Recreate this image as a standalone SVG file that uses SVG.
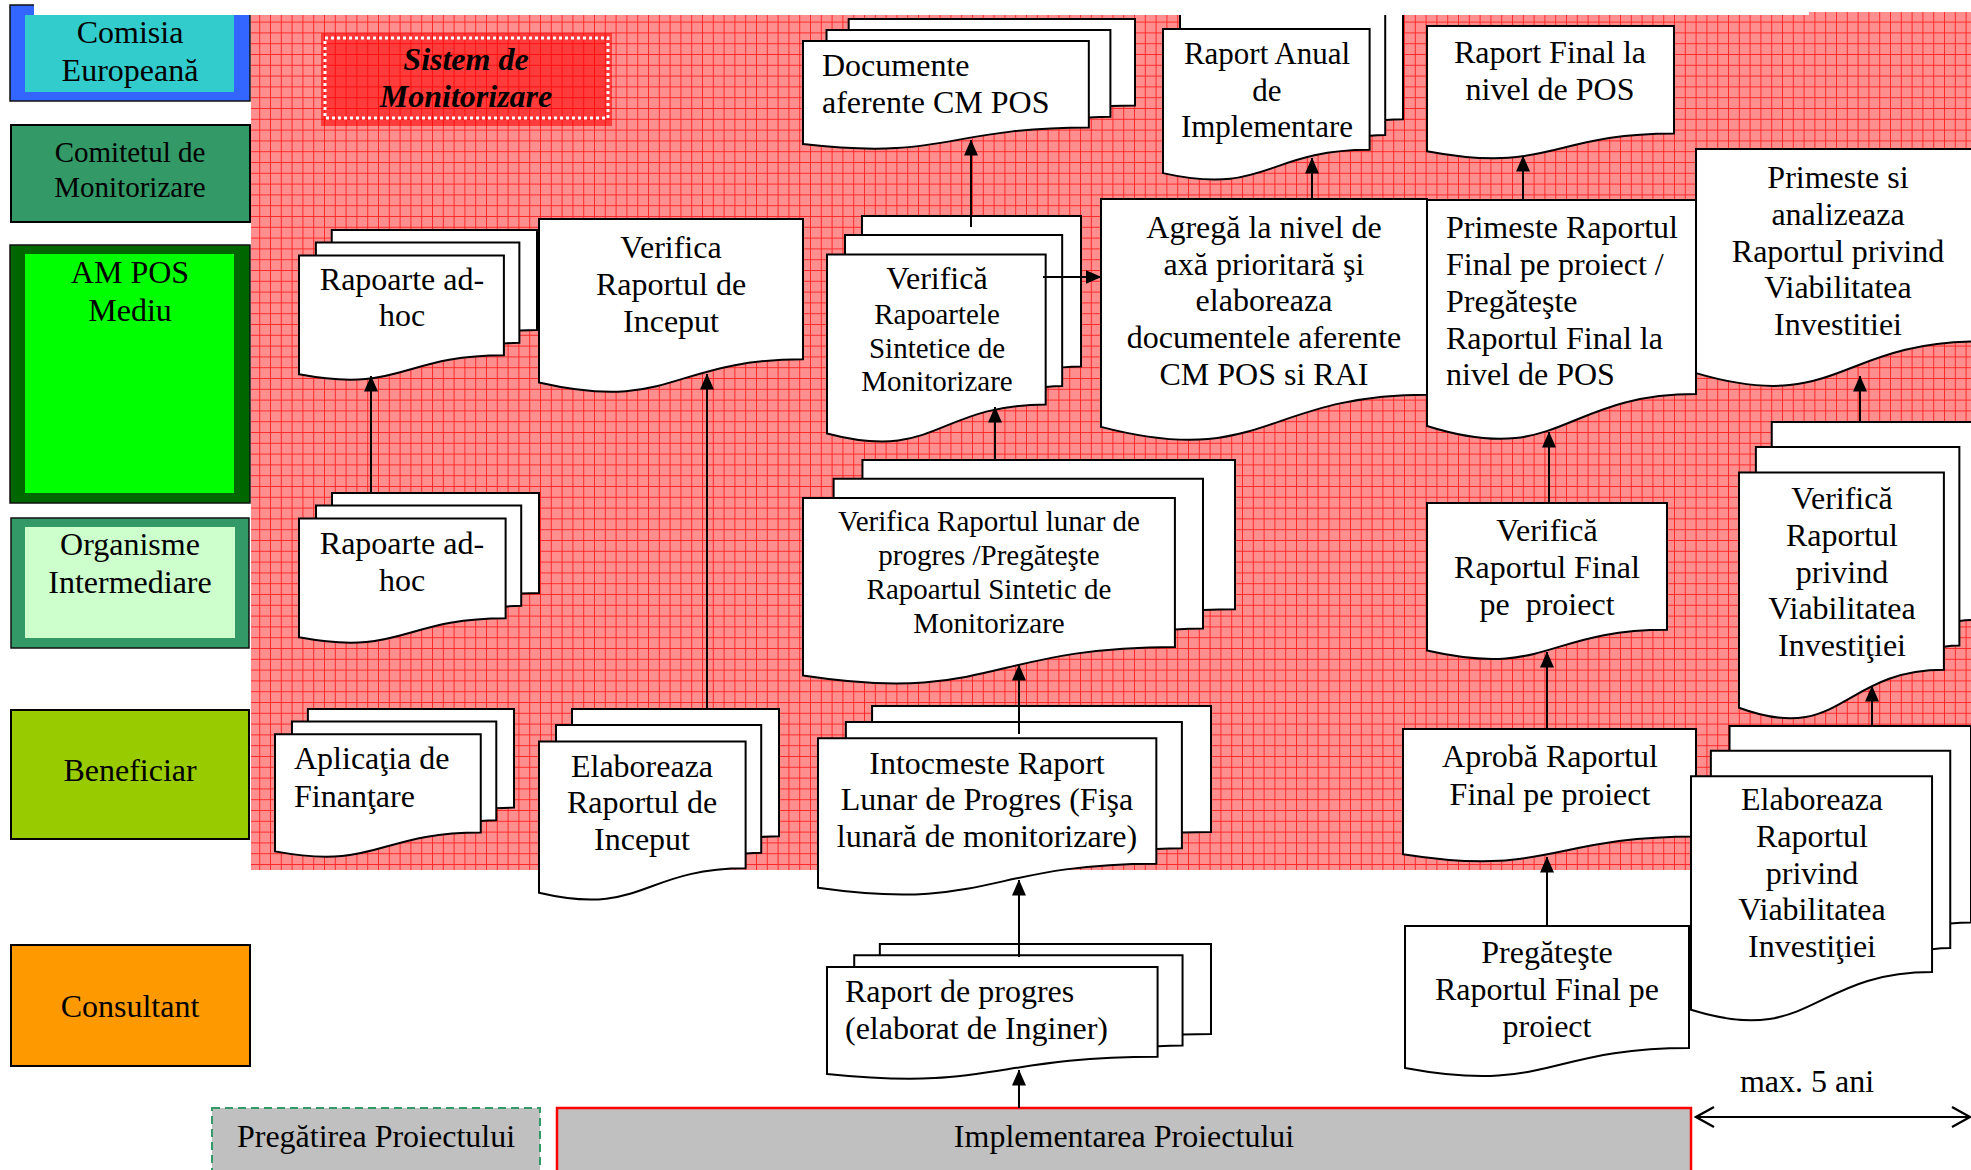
<svg xmlns="http://www.w3.org/2000/svg" xmlns:xlink="http://www.w3.org/1999/xlink" width="1971" height="1170" viewBox="0 0 1971 1170">
<style>
.pg{fill:#fff;stroke:#000;stroke-width:2;vector-effect:non-scaling-stroke;stroke-linejoin:miter}
.t{font-family:"Liberation Serif","Times New Roman",serif;font-size:32px;fill:#000}
.c{text-anchor:middle}
.s{font-size:29px}
.lane{stroke:#000;stroke-width:2}
.con{fill:none;stroke:#000;stroke-width:2}
</style>
<defs>
<pattern id="grid" patternUnits="userSpaceOnUse" width="10.8" height="10.8">
<rect width="10.8" height="10.8" fill="#FF8F8F"/>
<path d="M0,0.5H10.8M0.5,0V10.8" stroke="#FF2A2A" stroke-width="1"/>
</pattern>
<pattern id="grid2" patternUnits="userSpaceOnUse" width="10.8" height="10.8">
<rect width="10.8" height="10.8" fill="#FF3C3C"/>
<path d="M0,0.5H10.8M0.5,0V10.8" stroke="#FF1010" stroke-width="1"/>
</pattern>
<marker id="arr" markerUnits="userSpaceOnUse" viewBox="0 0 16 14" markerWidth="16" markerHeight="14" refX="15.5" refY="7" orient="auto">
<path d="M0,0L16,7L0,14Z" fill="#000"/>
</marker>
<marker id="opn" markerUnits="userSpaceOnUse" viewBox="0 0 22 24" markerWidth="22" markerHeight="24" refX="20" refY="12" orient="auto-start-reverse">
<path d="M2,2L20,12L2,22" fill="none" stroke="#000" stroke-width="2.2"/>
</marker>
<g id="md">
<path class="pg" d="M0.1376,0L1,0L1,0.6663C0.963,0.6663 0.9259,0.6698 0.9259,0.6698L0.1376,0.6698Z"/>
<path class="pg" d="M0.0709,0.084L0.9259,0.084L0.9259,0.7524C0.8934,0.7524 0.8609,0.757 0.8609,0.757L0.0709,0.757Z"/>
<path class="pg" d="M0,0.1701L0.8609,0.1701L0.8609,0.8343C0.4305,0.8343 0.4305,1.0899 0,0.9621Z"/>
</g>
<path id="doc" class="pg" d="M0,0H1V0.802C0.5,0.802 0.5,1.1075 0,0.9339Z"/>
</defs>

<g id="background">
<rect x="0" y="0" width="1971" height="1170" fill="#fff"/>
<rect x="251" y="12" width="1720" height="858" fill="url(#grid)"/>
</g>

<g id="lane-comisia">
<rect x="10" y="5" width="240" height="96" fill="#3366FF" stroke="#111" stroke-width="1.5"/>
<rect x="25" y="15" width="209" height="77" fill="#33CCCC"/>
<text class="t c" x="130"><tspan x="130" y="43">Comisia</tspan><tspan x="130" y="81">Europeană</tspan></text>
</g>
<g id="lane-comitetul">
<rect class="lane" x="11" y="125" width="239" height="97" fill="#339966"/>
<text class="t c s" x="130"><tspan x="130" y="162">Comitetul de</tspan><tspan x="130" y="197">Monitorizare</tspan></text>
</g>
<g id="lane-ampos">
<rect x="10" y="245" width="240" height="258" fill="#006600" stroke="#111" stroke-width="1.5"/>
<rect x="25" y="254" width="209" height="239" fill="#00FF00"/>
<text class="t c" x="130"><tspan x="130" y="283">AM POS</tspan><tspan x="130" y="321">Mediu</tspan></text>
</g>
<g id="lane-organisme">
<rect x="11" y="518" width="238" height="130" fill="#339966" stroke="#111" stroke-width="1.5"/>
<rect x="25" y="527" width="210" height="111" fill="#CCFFCC"/>
<text class="t c" x="130"><tspan x="130" y="555">Organisme</tspan><tspan x="130" y="593">Intermediare</tspan></text>
</g>
<g id="lane-beneficiar">
<rect class="lane" x="11" y="710" width="238" height="129" fill="#99CC00"/>
<text class="t c" x="130" y="781">Beneficiar</text>
</g>
<g id="lane-consultant">
<rect class="lane" x="11" y="945" width="239" height="121" fill="#FF9900"/>
<text class="t c" x="130" y="1017">Consultant</text>
</g>

<g id="sistem-monitorizare">
<rect x="321" y="33" width="291" height="93" fill="url(#grid2)"/>
<rect x="325" y="38" width="283" height="80" fill="none" stroke="#fff" stroke-width="3" stroke-dasharray="3 3"/>
<text class="t c" x="466" style="font-weight:bold;font-style:italic"><tspan x="466" y="70">Sistem de</tspan><tspan x="466" y="107">Monitorizare</tspan></text>
</g>

<g id="n-rapoarte-adhoc-am">
<use xlink:href="#md" transform="translate(299,230) scale(238,150)"/>
<text class="t c"><tspan x="402" y="290">Rapoarte ad-</tspan><tspan x="402" y="326">hoc</tspan></text>
</g>
<g id="n-verifica-inceput">
<use xlink:href="#doc" transform="translate(539,219) scale(264,175)"/>
<text class="t c"><tspan x="671" y="258">Verifica</tspan><tspan x="671" y="295">Raportul de</tspan><tspan x="671" y="332">Inceput</tspan></text>
</g>
<g id="n-rapoarte-adhoc-oi">
<use xlink:href="#md" transform="translate(299,493) scale(240,150)"/>
<text class="t c"><tspan x="402" y="554">Rapoarte ad-</tspan><tspan x="402" y="591">hoc</tspan></text>
</g>
<g id="n-aplicatia">
<use xlink:href="#md" transform="translate(275,709) scale(239,148)"/>
<text class="t"><tspan x="294" y="769">Aplicaţia de</tspan><tspan x="294" y="807">Finanţare</tspan></text>
</g>
<g id="n-elaboreaza-inceput">
<use xlink:href="#md" transform="translate(539,709) scale(240,191)"/>
<text class="t c"><tspan x="642" y="777">Elaboreaza</tspan><tspan x="642" y="813">Raportul de</tspan><tspan x="642" y="850">Inceput</tspan></text>
</g>
<g id="n-documente-cm">
<use xlink:href="#md" transform="translate(803,19) scale(332,130)"/>
<text class="t"><tspan x="822" y="76">Documente</tspan><tspan x="822" y="113">aferente CM POS</tspan></text>
</g>
<g id="n-verifica-sintetice">
<use xlink:href="#md" transform="translate(827,216) scale(254,226)"/>
<text class="t c"><tspan x="937" y="289">Verifică</tspan><tspan class="s" x="937" y="324">Rapoartele</tspan><tspan class="s" x="937" y="358">Sintetice de</tspan><tspan class="s" x="937" y="391">Monitorizare</tspan></text>
</g>
<g id="n-raport-anual">
<use xlink:href="#md" transform="translate(1163,-2) scale(240,182)"/>
<text class="t c" style="font-size:31px"><tspan x="1267" y="64">Raport Anual</tspan><tspan x="1267" y="101">de</tspan><tspan x="1267" y="137">Implementare</tspan></text>
</g>
<g id="n-agrega">
<use xlink:href="#doc" transform="translate(1101,199) scale(326,244)"/>
<text class="t c"><tspan x="1264" y="238">Agregă la nivel de</tspan><tspan x="1264" y="275">axă prioritară şi</tspan><tspan x="1264" y="311">elaboreaza</tspan><tspan x="1264" y="348">documentele aferente</tspan><tspan x="1264" y="385">CM POS si RAI</tspan></text>
</g>
<g id="n-raport-final-pos">
<use xlink:href="#doc" transform="translate(1427,26) scale(247,134)"/>
<text class="t c"><tspan x="1550" y="63">Raport Final la</tspan><tspan x="1550" y="100">nivel de POS</tspan></text>
</g>
<g id="n-primeste-final">
<use xlink:href="#doc" transform="translate(1427,200) scale(269,242)"/>
<text class="t"><tspan x="1446" y="238">Primeste Raportul</tspan><tspan x="1446" y="275">Final pe proiect /</tspan><tspan x="1446" y="312">Pregăteşte</tspan><tspan x="1446" y="349">Raportul Final la</tspan><tspan x="1446" y="385">nivel de POS</tspan></text>
</g>
<g id="n-primeste-viabilitate">
<use xlink:href="#doc" transform="translate(1696,149) scale(284,240)"/>
<text class="t c"><tspan x="1838" y="188">Primeste si</tspan><tspan x="1838" y="225">analizeaza</tspan><tspan x="1838" y="262">Raportul privind</tspan><tspan x="1838" y="298">Viabilitatea</tspan><tspan x="1838" y="335">Investitiei</tspan></text>
</g>
<g id="n-verifica-viabilitate">
<use xlink:href="#md" transform="translate(1739,422) scale(238,297)"/>
<text class="t c"><tspan x="1842" y="509">Verifică</tspan><tspan x="1842" y="546">Raportul</tspan><tspan x="1842" y="583">privind</tspan><tspan x="1842" y="619">Viabilitatea</tspan><tspan x="1842" y="656">Investiţiei</tspan></text>
</g>
<g id="n-verifica-final-proiect">
<use xlink:href="#doc" transform="translate(1427,503) scale(240,158)"/>
<text class="t c" style="white-space:pre"><tspan x="1547" y="541">Verifică</tspan><tspan x="1547" y="578">Raportul Final</tspan><tspan x="1547" y="615">pe  proiect</tspan></text>
</g>
<g id="n-aproba">
<use xlink:href="#doc" transform="translate(1403,729) scale(293,134)"/>
<text class="t c"><tspan x="1550" y="767">Aprobă Raportul</tspan><tspan x="1550" y="805">Final pe proiect</tspan></text>
</g>
<g id="n-elaboreaza-viabilitate">
<use xlink:href="#md" transform="translate(1691,726) scale(280,295)"/>
<text class="t c"><tspan x="1812" y="810">Elaboreaza</tspan><tspan x="1812" y="847">Raportul</tspan><tspan x="1812" y="884">privind</tspan><tspan x="1812" y="920">Viabilitatea</tspan><tspan x="1812" y="957">Investiţiei</tspan></text>
</g>
<g id="n-pregateste-final">
<use xlink:href="#doc" transform="translate(1405,926) scale(284,152)"/>
<text class="t c"><tspan x="1547" y="963">Pregăteşte</tspan><tspan x="1547" y="1000">Raportul Final pe</tspan><tspan x="1547" y="1037">proiect</tspan></text>
</g>
<g id="n-verifica-lunar">
<use xlink:href="#md" transform="translate(803,460) scale(432,224)"/>
<text class="t c s"><tspan x="989" y="531">Verifica Raportul lunar de</tspan><tspan x="989" y="565">progres /Pregăteşte</tspan><tspan x="989" y="599">Rapoartul Sintetic de</tspan><tspan x="989" y="633">Monitorizare</tspan></text>
</g>
<g id="n-intocmeste">
<use xlink:href="#md" transform="translate(818,706) scale(393,189)"/>
<text class="t c"><tspan x="987" y="774">Intocmeste Raport</tspan><tspan x="987" y="810">Lunar de Progres (Fişa</tspan><tspan x="987" y="847">lunară de monitorizare)</tspan></text>
</g>
<g id="n-raport-progres">
<use xlink:href="#md" transform="translate(827,944) scale(384,135)"/>
<text class="t"><tspan x="845" y="1002">Raport de progres</tspan><tspan x="845" y="1039">(elaborat de Inginer)</tspan></text>
</g>

<g id="phase-pregatire">
<rect x="212" y="1108" width="328" height="70" fill="#C0C0C0" stroke="#339966" stroke-width="2" stroke-dasharray="8 5"/>
<text class="t c" x="376" y="1147">Pregătirea Proiectului</text>
</g>
<g id="phase-implementare">
<rect x="557" y="1108" width="1134" height="70" fill="#C0C0C0" stroke="#FF0000" stroke-width="2.5"/>
<text class="t c" x="1124" y="1147">Implementarea Proiectului</text>
</g>
<g id="duration">
<text class="t c" x="1807" y="1092">max. 5 ani</text>
</g>

<g id="connectors">
<path class="con" d="M371,493V376" marker-end="url(#arr)"/>
<path class="con" d="M707,709V374" marker-end="url(#arr)"/>
<path class="con" d="M971,227V140" marker-end="url(#arr)"/>
<path class="con" d="M995,460V407" marker-end="url(#arr)"/>
<path class="con" d="M1043,277H1101" marker-end="url(#arr)"/>
<path class="con" d="M1312,199V158" marker-end="url(#arr)"/>
<path class="con" d="M1523,200V156" marker-end="url(#arr)"/>
<path class="con" d="M1549,503V432" marker-end="url(#arr)"/>
<path class="con" d="M1547,729V652" marker-end="url(#arr)"/>
<path class="con" d="M1547,926V857" marker-end="url(#arr)"/>
<path class="con" d="M1872,726V686" marker-end="url(#arr)"/>
<path class="con" d="M1860,422V376" marker-end="url(#arr)"/>
<path class="con" d="M1019,734V665" marker-end="url(#arr)"/>
<path class="con" d="M1019,957V880" marker-end="url(#arr)"/>
<path class="con" d="M1019,1108V1070" marker-end="url(#arr)"/>
<path class="con" d="M1696,1117H1970" marker-start="url(#opn)" marker-end="url(#opn)"/>
</g>

<g id="top-clip">
<rect x="34" y="0" width="1775" height="15" fill="#fff"/>
</g>
</svg>
